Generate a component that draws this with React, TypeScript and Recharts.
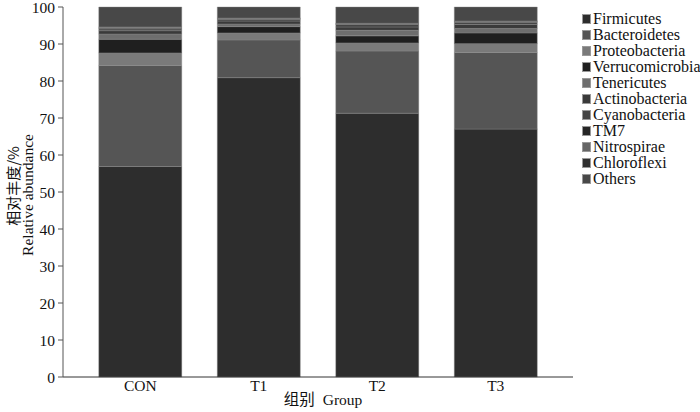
import React from 'react';
import { BarChart, Bar, XAxis, YAxis } from 'recharts';

const groups = ['CON', 'T1', 'T2', 'T3'];
const phyla = [
  'Firmicutes', 'Bacteroidetes', 'Proteobacteria', 'Verrucomicrobia', 'Tenericutes',
  'Actinobacteria', 'Cyanobacteria', 'TM7', 'Nitrospirae', 'Chloroflexi', 'Others',
];
// relative abundance (%) per phylum, one value per group in order CON, T1, T2, T3
const firmicutes = [56.9, 80.9, 71.3, 67.0];
const bacteroidetes = [27.3, 10.2, 16.8, 20.7];
const proteobacteria = [3.4, 1.9, 2.2, 2.4];
const verrucomicrobia = [3.7, 1.7, 1.9, 2.9];
const tenericutes = [1.4, 0.7, 1.5, 1.2];
const actinobacteria = [0.9, 0.8, 0.9, 1.1];
const cyanobacteria = [0.5, 0.4, 0.7, 0.6];
const tm7 = [0.2, 0.2, 0.1, 0.1];
const nitrospirae = [0.2, 0.1, 0.1, 0.1];
const chloroflexi = [0.1, 0.1, 0.1, 0.1];
const others = [5.4, 3.0, 4.4, 3.8];
const yTicks = [0, 10, 20, 30, 40, 50, 60, 70, 80, 90, 100];

const series = [firmicutes, bacteroidetes, proteobacteria, verrucomicrobia, tenericutes,
  actinobacteria, cyanobacteria, tm7, nitrospirae, chloroflexi, others];

const COLORS = ['#2d2d2d', '#555555', '#7a7a7a', '#1f1f1f', '#6e6e6e',
  '#3a3a3a', '#444444', '#262626', '#666666', '#303030', '#484848'];

const data = groups.map((g, i) => {
  const row: Record<string, string | number> = { group: g };
  phyla.forEach((p, k) => { row[p] = series[k][i]; });
  return row;
});

const FONT = '"Liberation Serif", "Times New Roman", serif';

const YLabel = () => (
  <g fill="#111">
    <text x={19} y={186} transform="rotate(-90 19 186)" textAnchor="middle" fontSize={15}
      fontFamily='"Noto Sans CJK SC", sans-serif'>相对丰度/%</text>
    <text x={33} y={195} transform="rotate(-90 33 195)" textAnchor="middle" fontSize={15.5} fontFamily={FONT}>
      Relative abundance
    </text>
  </g>
);

const XLabel = () => (
  <text x={323} y={405} textAnchor="middle" fontSize={15.5} fill="#111">
    <tspan fontFamily='"Noto Sans CJK SC", sans-serif'>组别</tspan>
    <tspan fontFamily={FONT} dx={8}>Group</tspan>
  </text>
);

export default function App() {
  return (
    <div style={{ position: 'absolute', left: 0, top: 0, width: 700, height: 412, background: '#fff' }}>
      <BarChart
        width={700}
        height={412}
        data={data}
        margin={{ top: 7, right: 127, bottom: 5, left: 0 }}
        barCategoryGap="15%"
      >
        <XAxis
          dataKey="group"
          height={30}
          padding={{ left: 18, right: 18 }}
          tickLine={false}
          tickSize={0}
          tickMargin={3}
          axisLine={{ stroke: '#333' }}
          tick={{ fontFamily: FONT, fontSize: 15.5, fill: '#111' }}
          label={{ content: () => <XLabel /> }}
        />
        <YAxis
          width={63}
          domain={[0, 100]}
          ticks={yTicks}
          interval={0}
          tickSize={5}
          tickMargin={3}
          axisLine={{ stroke: '#555' }}
          tickLine={{ stroke: '#555' }}
          tick={{ fontFamily: FONT, fontSize: 15.5, fill: '#111' }}
          label={{ content: () => <YLabel /> }}
        />
        {phyla.map((p, k) => (
          <Bar
            key={p}
            dataKey={p}
            stackId="a"
            fill={COLORS[k]}
            stroke="#8a8a8a"
            strokeWidth={0.4}
            isAnimationActive={false}
          />
        ))}
      </BarChart>
      <div style={{ position: 'absolute', left: 582, top: 11, fontFamily: FONT, fontSize: 16, color: '#111', lineHeight: '16px' }}>
        {phyla.map((p, k) => (
          <div key={p} style={{ display: 'flex', alignItems: 'center', height: 16, whiteSpace: 'nowrap' }}>
            <span style={{ width: 9, height: 10, background: COLORS[k], marginRight: 2, border: '0.5px solid #999', boxSizing: 'border-box' }} />
            <span>{p}</span>
          </div>
        ))}
      </div>
    </div>
  );
}
